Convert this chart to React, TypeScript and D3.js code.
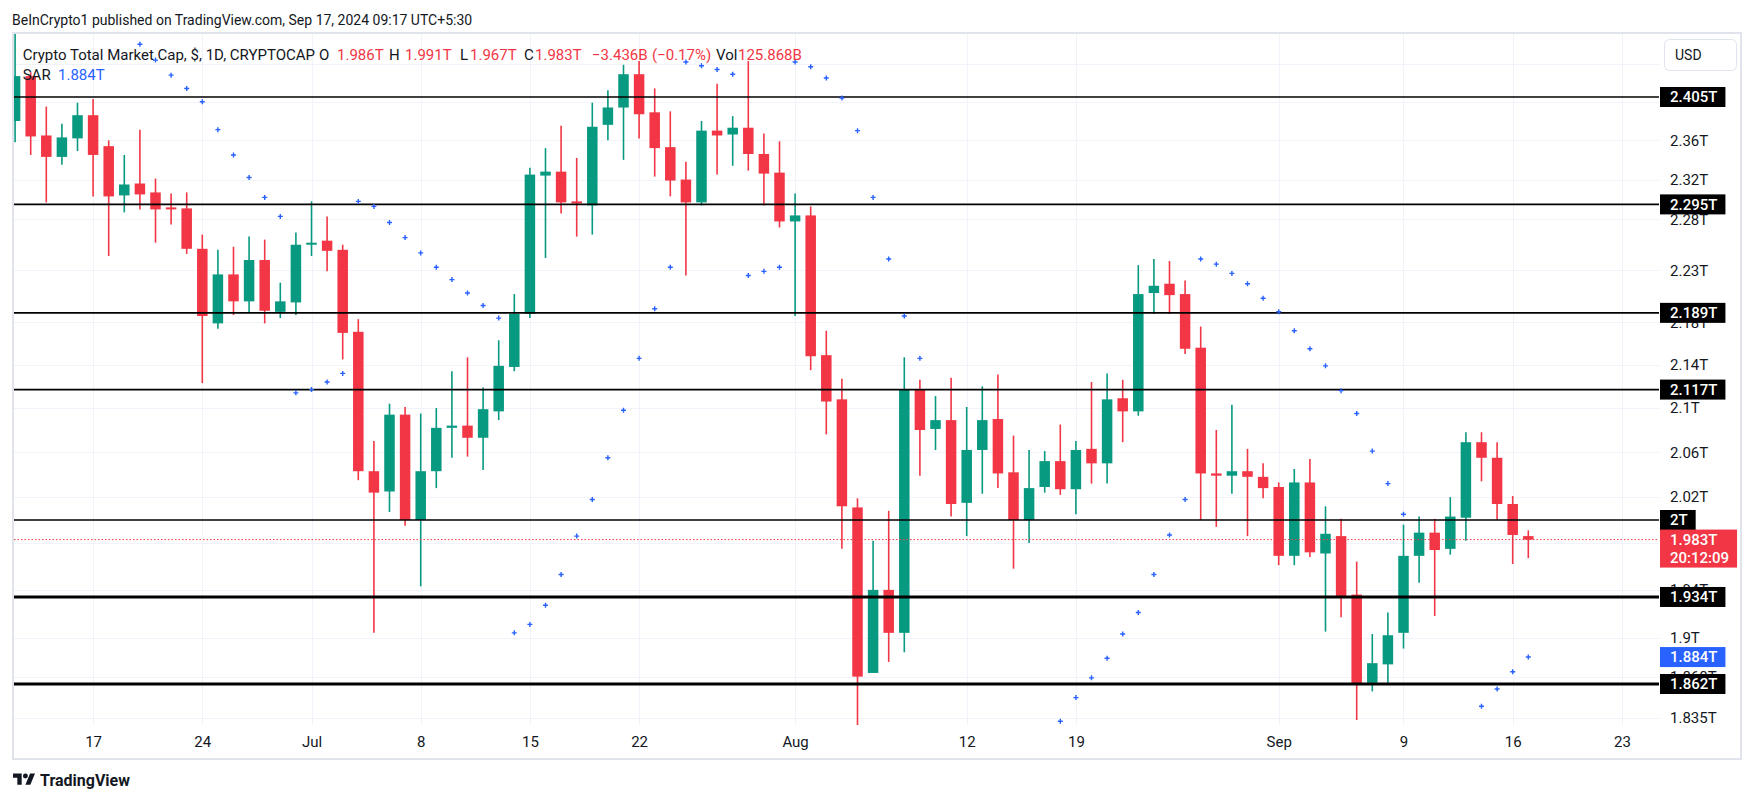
import React, { useEffect, useRef } from "react";
import * as d3 from "d3";

// canvas
const W = 1754;
const H = 803;

// daily bars, first and last day shown
const startDate = "2024-06-12";
const endDate = "2024-09-17";

// OHLC in trillions USD
const opens = [
  2.380, 2.427, 2.365, 2.343, 2.362, 2.386, 2.354, 2.304, 2.316, 2.307,
  2.292, 2.291, 2.251, 2.179, 2.226, 2.200, 2.240, 2.190, 2.199, 2.255,
  2.259, 2.250, 2.171, 2.043, 2.025, 2.094, 2.000, 2.043, 2.082, 2.084,
  2.073, 2.097, 2.138, 2.188, 2.324, 2.328, 2.298, 2.294, 2.376, 2.394,
  2.429, 2.389, 2.353, 2.320, 2.297, 2.370, 2.366, 2.373, 2.346, 2.327,
  2.278, 2.284, 2.149, 2.108, 2.011, 1.871, 1.940, 1.904, 2.117, 2.081,
  2.089, 2.015, 2.062, 2.090, 2.042, 2.000, 2.029, 2.052, 2.027, 2.063,
  2.050, 2.109, 2.097, 2.208, 2.217, 2.207, 2.156, 2.041, 2.039, 2.043,
  2.038, 2.029, 1.969, 2.033, 1.971, 1.986, 1.936, 1.863, 1.878, 1.904,
  1.969, 1.989, 1.975, 2.002, 2.069, 2.055, 2.014, 1.986,
];
const highs = [
  2.473, 2.431, 2.395, 2.377, 2.399, 2.403, 2.360, 2.345, 2.371, 2.321,
  2.306, 2.307, 2.265, 2.250, 2.253, 2.263, 2.260, 2.218, 2.267, 2.298,
  2.283, 2.255, 2.183, 2.070, 2.104, 2.101, 2.095, 2.100, 2.134, 2.147,
  2.119, 2.163, 2.207, 2.332, 2.352, 2.375, 2.342, 2.399, 2.412, 2.439,
  2.443, 2.414, 2.390, 2.338, 2.380, 2.419, 2.385, 2.443, 2.367, 2.359,
  2.306, 2.293, 2.172, 2.127, 2.019, 1.982, 2.008, 2.147, 2.126, 2.111,
  2.128, 2.101, 2.120, 2.131, 2.075, 2.062, 2.061, 2.085, 2.070, 2.124,
  2.132, 2.126, 2.235, 2.241, 2.239, 2.220, 2.176, 2.080, 2.103, 2.063,
  2.050, 2.033, 2.045, 2.054, 2.012, 2.001, 1.964, 1.903, 1.921, 1.996,
  2.003, 2.001, 2.020, 2.078, 2.078, 2.069, 2.021, 1.991,
];
const lows = [
  2.358, 2.345, 2.297, 2.335, 2.349, 2.303, 2.244, 2.287, 2.290, 2.257,
  2.275, 2.246, 2.123, 2.174, 2.187, 2.189, 2.179, 2.184, 2.187, 2.244,
  2.229, 2.145, 2.035, 1.904, 2.007, 1.995, 1.943, 2.028, 2.055, 2.056,
  2.044, 2.089, 2.134, 2.184, 2.242, 2.286, 2.263, 2.265, 2.360, 2.340,
  2.362, 2.323, 2.303, 2.225, 2.294, 2.325, 2.334, 2.329, 2.294, 2.272,
  2.186, 2.135, 2.076, 1.975, 1.826, 1.871, 1.880, 1.888, 2.039, 2.062,
  2.003, 1.986, 2.023, 2.028, 1.958, 1.980, 2.024, 2.022, 2.005, 2.032,
  2.032, 2.069, 2.093, 2.188, 2.188, 2.150, 2.000, 1.994, 2.023, 1.986,
  2.019, 1.961, 1.961, 1.968, 1.905, 1.917, 1.833, 1.856, 1.863, 1.891,
  1.946, 1.918, 1.970, 1.982, 2.034, 2.000, 1.962, 1.967,
];
const closes = [
  2.427, 2.364, 2.343, 2.363, 2.386, 2.345, 2.303, 2.315, 2.305, 2.290,
  2.291, 2.251, 2.186, 2.226, 2.200, 2.240, 2.191, 2.200, 2.255, 2.257,
  2.249, 2.170, 2.043, 2.024, 2.094, 2.000, 2.043, 2.082, 2.084, 2.073,
  2.099, 2.139, 2.188, 2.325, 2.328, 2.297, 2.296, 2.374, 2.394, 2.429,
  2.387, 2.352, 2.319, 2.297, 2.370, 2.365, 2.373, 2.346, 2.326, 2.278,
  2.284, 2.148, 2.106, 2.012, 1.868, 1.940, 1.904, 2.117, 2.080, 2.089,
  2.014, 2.062, 2.089, 2.041, 2.000, 2.028, 2.052, 2.027, 2.062, 2.050,
  2.108, 2.097, 2.207, 2.215, 2.206, 2.155, 2.041, 2.039, 2.043, 2.038,
  2.028, 1.969, 2.033, 1.972, 1.988, 1.934, 1.862, 1.879, 1.902, 1.969,
  1.989, 1.974, 2.003, 2.069, 2.055, 2.014, 1.987, 1.983,
];

// parabolic SAR (null = off the visible pane)
const sar = [
  null, null, null, null, null, null, null, null, 2.461, 2.444,
  2.428, 2.414, 2.400, 2.371, 2.345, 2.322, 2.302, 2.283, 2.114, 2.117,
  2.124, 2.132, 2.298, 2.293, 2.277, 2.262, 2.247, 2.233, 2.221, 2.208,
  2.196, 2.184, 1.904, 1.911, 1.927, 1.953, 1.986, 2.018, 2.055, 2.098,
  2.146, 2.193, 2.233, 2.442, 2.438, 2.434, 2.429, 2.225, 2.229, 2.233,
  2.442, 2.437, 2.425, 2.404, 2.370, 2.302, 2.241, 2.186, 2.146, null,
  null, null, null, null, null, null, null, 1.832, 1.851, 1.867,
  1.883, 1.903, 1.921, 1.953, 1.987, 2.018, 2.241, 2.236, 2.227, 2.217,
  2.203, 2.190, 2.172, 2.155, 2.139, 2.116, 2.095, 2.061, 2.032, 2.005,
  null, null, null, null, 1.844, 1.858, 1.872, 1.884,
];

const priceTicks = [2.44, 2.4, 2.36, 2.32, 2.28, 2.23, 2.18, 2.14, 2.1, 2.06, 2.02, 1.98, 1.94, 1.9, 1.868, 1.835];

const timeTickDates = [
  "2024-06-17", "2024-06-24", "2024-07-01", "2024-07-08", "2024-07-15", "2024-07-22", "2024-08-01",
  "2024-08-12", "2024-08-19", "2024-09-01", "2024-09-09", "2024-09-16", "2024-09-23",
];
const timeTickLabels = ["17", "24", "Jul", "8", "15", "22", "Aug", "12", "19", "Sep", "9", "16", "23"];

// drawn horizontal levels
const levels = [2.405, 2.295, 2.189, 2.117, 2, 1.934, 1.862];
const strongLevels = [1.934, 1.862];

const headerText = "BeInCrypto1 published on TradingView.com, Sep 17, 2024 09:17 UTC+5:30";
const symbolText = "Crypto Total Market Cap, $, 1D, CRYPTOCAP";
const changeText = "\u22123.436B";
const changePctText = "(\u22120.17%)";
const volumeText = "125.868B";
const countdownText = "20:12:09";

const GREEN = "#089981";
const RED = "#F23645";
const BLUE = "#2962FF";
const TEXT = "#131722";
const FONT = "Roboto, 'Noto Sans', sans-serif";

const fmtT = (v: number) => `${v}T`;

export default function App() {
  const svgRef = useRef<SVGSVGElement>(null);

  useEffect(() => {
    const svg = d3.select(svgRef.current);
    svg.selectAll("*").remove();

    const pane = { left: 14, right: 1659, top: 34, bottom: 725 };

    const dates = d3.utcDay.range(new Date(startDate), d3.utcDay.offset(new Date(endDate), 1));
    const bars = dates.map((d, i) => ({
      date: d,
      o: opens[i],
      h: highs[i],
      l: lows[i],
      c: closes[i],
      sar: sar[i],
    }));
    const last = bars[bars.length - 1];

    const x = d3.scaleUtc().domain([dates[0], dates[dates.length - 1]]).range([15.1, 1528.3]);
    const y = d3.scaleLog().domain([1.862, 2.405]).range([684, 97]);

    svg.append("rect").attr("width", W).attr("height", H).attr("fill", "#fff");

    // header
    svg
      .append("text")
      .attr("x", 12)
      .attr("y", 25)
      .attr("font-size", 14)
      .attr("fill", TEXT)
      .text(headerText);

    svg
      .append("defs")
      .append("clipPath")
      .attr("id", "pane-clip")
      .append("rect")
      .attr("x", pane.left)
      .attr("y", pane.top)
      .attr("width", pane.right - pane.left)
      .attr("height", pane.bottom - pane.top);

    // grid
    const grid = svg.append("g").attr("stroke", "#f0f3fa").attr("stroke-width", 1);
    grid
      .selectAll("line.h")
      .data(priceTicks)
      .join("line")
      .attr("x1", pane.left)
      .attr("x2", pane.right)
      .attr("y1", (d) => Math.round(y(d)) + 0.5)
      .attr("y2", (d) => Math.round(y(d)) + 0.5);
    const tickDates = timeTickDates.map((s) => new Date(s));
    grid
      .selectAll("line.v")
      .data(tickDates)
      .join("line")
      .attr("x1", (d) => Math.round(x(d)) + 0.5)
      .attr("x2", (d) => Math.round(x(d)) + 0.5)
      .attr("y1", pane.top)
      .attr("y2", pane.bottom);

    const plot = svg.append("g").attr("clip-path", "url(#pane-clip)");

    // candles
    const bodyW = 10.5;
    const candles = plot
      .selectAll("g.candle")
      .data(bars)
      .join("g")
      .attr("fill", (d) => (d.c >= d.o ? GREEN : RED))
      .attr("stroke", (d) => (d.c >= d.o ? GREEN : RED));
    candles
      .append("line")
      .attr("x1", (d) => x(d.date))
      .attr("x2", (d) => x(d.date))
      .attr("y1", (d) => y(d.h))
      .attr("y2", (d) => y(d.l))
      .attr("stroke-width", 1.6);
    candles
      .append("rect")
      .attr("stroke", "none")
      .attr("x", (d) => x(d.date) - bodyW / 2)
      .attr("width", bodyW)
      .attr("y", (d) => y(Math.max(d.o, d.c)))
      .attr("height", (d) => Math.max(2, Math.abs(y(d.o) - y(d.c))));

    // level lines
    plot
      .selectAll("line.level")
      .data(levels)
      .join("line")
      .attr("x1", pane.left)
      .attr("x2", pane.right)
      .attr("y1", (d) => y(d))
      .attr("y2", (d) => y(d))
      .attr("stroke", "#000")
      .attr("stroke-width", (d) => (strongLevels.includes(d) ? 3 : 1.6));

    // SAR crosses
    plot
      .selectAll("path.sar")
      .data(bars.filter((d) => d.sar != null))
      .join("path")
      .attr("d", (d) => {
        const cx = x(d.date);
        const cy = y(d.sar as number);
        return `M${cx - 2.5},${cy}h5M${cx},${cy - 2.5}v5`;
      })
      .attr("stroke", BLUE)
      .attr("stroke-width", 1.4)
      .attr("fill", "none");

    // last price dotted line
    plot
      .append("line")
      .attr("x1", pane.left)
      .attr("x2", pane.right)
      .attr("y1", y(last.c))
      .attr("y2", y(last.c))
      .attr("stroke", RED)
      .attr("stroke-width", 1)
      .attr("stroke-dasharray", "1.5 2");

    // legend
    const legend = svg.append("g").attr("font-size", 15).attr("font-family", FONT);
    const legendItems: [string, number, string][] = [
      [symbolText, 22.7, TEXT],
      ["O", 319, TEXT],
      [fmtT(last.o), 337, RED],
      ["H", 389, TEXT],
      [fmtT(last.h), 405, RED],
      ["L", 460, TEXT],
      [fmtT(last.l), 470, RED],
      ["C", 524, TEXT],
      [fmtT(last.c), 535, RED],
      [changeText, 592, RED],
      [changePctText, 652, RED],
      ["Vol", 716, TEXT],
      [volumeText, 738, RED],
    ];
    legend
      .selectAll("text.item")
      .data(legendItems)
      .join("text")
      .attr("x", (d) => d[1])
      .attr("y", 59.5)
      .attr("fill", (d) => d[2])
      .text((d) => d[0]);
    legend.append("text").attr("x", 22.7).attr("y", 79.5).attr("fill", TEXT).text("SAR");
    legend
      .append("text")
      .attr("x", 58)
      .attr("y", 79.5)
      .attr("fill", BLUE)
      .text(fmtT(last.sar as number));

    // time axis
    const xAxis = d3
      .axisBottom(x)
      .tickValues(tickDates)
      .tickFormat((_, i) => timeTickLabels[i])
      .tickSize(0);
    const xg = svg.append("g").attr("transform", `translate(0,${pane.bottom})`).call(xAxis);
    xg.select(".domain").remove();
    xg.attr("font-family", FONT).attr("font-size", 15);
    xg.selectAll("text").attr("y", 17).attr("dy", "0.35em").attr("fill", TEXT);

    // price axis: labels fully hidden under a tag or the USD button are left out
    const axisX = pane.right + 1;
    const tagged = levels.concat([last.c]);
    const visibleTicks = priceTicks.filter(
      (v) => y(v) > 72 && !tagged.some((t) => Math.abs(y(t) - y(v)) < 6)
    );
    const yAxis = d3
      .axisRight(y)
      .tickValues(visibleTicks)
      .tickFormat((d) => fmtT(d as number))
      .tickSize(0)
      .tickPadding(10);
    const yg = svg.append("g").attr("transform", `translate(${axisX},0)`).call(yAxis);
    yg.select(".domain").remove();
    yg.attr("font-family", FONT).attr("font-size", 15);
    yg.selectAll("text").attr("fill", TEXT);

    // price tags on the axis
    const tag = (value: number, lines: string[], fill: string) => {
      const g = svg.append("g").attr("font-family", FONT).attr("font-size", 15).attr("font-weight", 500);
      const cy = y(value);
      const lineH = 18;
      const rect = g.append("rect").attr("fill", fill);
      let wMax = 0;
      lines.forEach((t, k) => {
        const el = g
          .append("text")
          .attr("x", axisX + 10)
          .attr("y", cy + k * lineH)
          .attr("dy", "0.35em")
          .attr("fill", "#fff")
          .text(t);
        wMax = Math.max(wMax, (el.node() as SVGTextElement).getComputedTextLength());
      });
      rect
        .attr("x", axisX)
        .attr("y", cy - 10)
        .attr("width", wMax + 18)
        .attr("height", 20 + (lines.length - 1) * lineH);
    };
    levels.forEach((v) => tag(v, [fmtT(v)], "#000"));
    tag(last.sar as number, [fmtT(last.sar as number)], BLUE);
    tag(last.c, [fmtT(last.c), countdownText], RED);

    // USD button
    svg
      .append("rect")
      .attr("x", 1664.5)
      .attr("y", 39.5)
      .attr("width", 72)
      .attr("height", 31)
      .attr("rx", 5)
      .attr("fill", "#fff")
      .attr("stroke", "#e0e3eb");
    svg
      .append("text")
      .attr("x", 1675)
      .attr("y", 55)
      .attr("dy", "0.35em")
      .attr("font-family", FONT)
      .attr("font-size", 14)
      .attr("fill", TEXT)
      .text("USD");

    // frame
    svg
      .append("rect")
      .attr("x", 13)
      .attr("y", 33)
      .attr("width", 1741 - 13)
      .attr("height", 759 - 33)
      .attr("fill", "none")
      .attr("stroke", "#e0e3eb")
      .attr("stroke-width", 2);

    // footer logo
    const logo = svg.append("g").attr("transform", "translate(13,771) scale(0.62)").attr("fill", TEXT);
    logo.append("path").attr("d", "M14 22H7V11H0V4h14v18zM28 22h-8l7.5-18h8L28 22z");
    logo.append("circle").attr("cx", 20).attr("cy", 8).attr("r", 4);
    svg
      .append("text")
      .attr("x", 40)
      .attr("y", 786)
      .attr("font-family", FONT)
      .attr("font-size", 16)
      .attr("font-weight", 700)
      .attr("fill", TEXT)
      .text("TradingView");
  }, []);

  return (
    <svg
      ref={svgRef}
      width={W}
      height={H}
      viewBox={`0 0 ${W} ${H}`}
      fontFamily={FONT}
      style={{ position: "absolute", left: 0, top: 0, display: "block" }}
    />
  );
}
